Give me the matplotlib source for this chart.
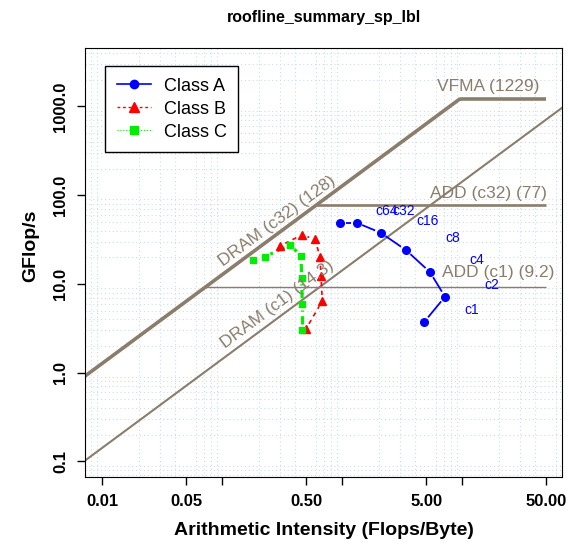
import matplotlib
matplotlib.use("Agg")
import matplotlib.pyplot as plt
from matplotlib.lines import Line2D
from matplotlib.ticker import FixedLocator, LogLocator, NullFormatter
import numpy as np

plt.rcParams['font.family'] = ['Liberation Sans', 'DejaVu Sans']

# roofline ceilings
vfma_peak = 1229.0
add_c32 = 77.0
add_c1 = 9.2
dram_c32 = 128.0
dram_c1 = 14.3

# measured points, c1 .. c64
thread_labels = ["c1", "c2", "c4", "c8", "c16", "c32", "c64"]
a_ai = [4.80, 7.15, 5.36, 3.38, 2.08, 1.31, 0.95]
a_gf = [3.73, 7.18, 13.6, 24.1, 37.8, 49.0, 49.0]
b_ai = [0.496, 0.679, 0.662, 0.650, 0.590, 0.457, 0.301]
b_gf = [3.11, 6.43, 12.3, 20.1, 32.1, 35.6, 26.8]
c_ai = [0.462, 0.462, 0.457, 0.451, 0.365, 0.226, 0.181]
c_gf = [3.03, 5.90, 11.6, 20.8, 27.5, 20.3, 18.6]

xlim = (0.00715, 67.5)
ylim = (0.0668, 4560)
roof_col = '#8b7d6b'

fig = plt.figure(figsize=(5.70, 5.44), dpi=100)
ax = fig.add_axes([85/570, 1 - 477/544, 477/570, 429/544])
ax.set_xscale('log')
ax.set_yscale('log')
ax.set_xlim(*xlim)
ax.set_ylim(*ylim)

# grid
ax.xaxis.set_minor_locator(LogLocator(base=10, subs=np.arange(1, 10)))
ax.yaxis.set_minor_locator(LogLocator(base=10, subs=np.arange(1, 10)))
ax.xaxis.set_minor_formatter(NullFormatter())
ax.yaxis.set_minor_formatter(NullFormatter())
ax.grid(which='minor', color='#cfdcef', linestyle=(0, (1, 2.5)), linewidth=0.8)
ax.tick_params(which='minor', length=0)

# rooflines
x_end = 50.0
ridge = vfma_peak / dram_c32
ax.plot([xlim[0], ridge], [dram_c32 * xlim[0], vfma_peak], color=roof_col, lw=2.6, solid_capstyle='butt')
ax.plot([ridge, x_end], [vfma_peak, vfma_peak], color=roof_col, lw=2.6, solid_capstyle='butt')
ax.plot([add_c32 / dram_c32, x_end], [add_c32, add_c32], color=roof_col, lw=1.9, solid_capstyle='butt')
ax.plot([xlim[0], xlim[1]], [dram_c1 * xlim[0], dram_c1 * xlim[1]], color=roof_col, lw=1.5)
ax.plot([add_c1 / dram_c32, x_end], [add_c1, add_c1], color=roof_col, lw=1.0, solid_capstyle='butt')

ax.text(16.3, 1669, "VFMA (1229)", color=roof_col, fontsize=12.5, ha='center', va='center')
ax.text(16.5, 105, "ADD (c32) (77)", color=roof_col, fontsize=12.5, ha='center', va='center')
ax.text(19.8, 13.6, "ADD (c1) (9.2)", color=roof_col, fontsize=12.5, ha='center', va='center')
ang = np.degrees(np.arctan((429 / np.log10(ylim[1] / ylim[0])) / (477 / np.log10(xlim[1] / xlim[0]))))
ax.text(0.284, 51.2, "DRAM (c32) (128)", color=roof_col, fontsize=12.5, ha='center', va='center',
        rotation=ang, rotation_mode='anchor')
ax.text(0.284, 5.94, "DRAM (c1) (14.3)", color=roof_col, fontsize=12.5, ha='center', va='center',
        rotation=ang, rotation_mode='anchor')


def draw_b(xs, ys, color, gap=6.0, **kw):
    # R style type="b": lines stop short of each point
    pts = ax.transData.transform(np.column_stack([xs, ys]))
    inv = ax.transData.inverted()
    for p0, p1 in zip(pts[:-1], pts[1:]):
        d = p1 - p0
        n = np.hypot(*d)
        if n <= 2 * gap:
            continue
        u = d / n
        seg = inv.transform(np.array([p0 + u * gap, p1 - u * gap]))
        ax.plot(seg[:, 0], seg[:, 1], color=color, **kw)


draw_b(a_ai, a_gf, 'blue', lw=1.3, solid_capstyle='butt')
draw_b(b_ai, b_gf, 'red', lw=1.2, dashes=(2.6, 2.6))
draw_b(c_ai, c_gf, '#00ee00', lw=2.3, dashes=(2.6, 1.4))
ax.plot(a_ai, a_gf, 'o', color='blue', ms=5.5, ls='none')
ax.plot(b_ai, b_gf, '^', color='red', ms=6, ls='none')
ax.plot(c_ai, c_gf, 's', color='#00ee00', ms=5, ls='none')

for lab, xv, yv in zip(thread_labels, a_ai, a_gf):
    ax.annotate(lab, (xv, yv), xytext=(34, 8.6), textcoords='offset points',
                color='blue', fontsize=10, ha='center', va='center')

# ticks
ax.xaxis.set_major_locator(FixedLocator([0.01, 0.05, 0.1, 0.5, 1, 5, 10, 50]))
ax.set_xticklabels(["0.01", "0.05", "", "0.50", "", "5.00", "", "50.00"])
ax.yaxis.set_major_locator(FixedLocator([0.1, 1, 10, 100, 1000]))
ax.set_yticklabels(["0.1", "1.0", "10.0", "100.0", "1000.0"], rotation=90, va='center')
ax.tick_params(which='major', length=6, width=1, labelsize=12, pad=6)
for t in ax.get_xticklabels() + ax.get_yticklabels():
    t.set_fontweight('bold')

ax.set_xlabel("Arithmetic Intensity (Flops/Byte)", fontsize=14, fontweight='bold')
ax.xaxis.set_label_coords(0.5, -0.105)
ax.set_ylabel("GFlop/s", fontsize=14, fontweight='bold')
ax.yaxis.set_label_coords(-0.095, 0.54)
ax.set_title("roofline_summary_sp_lbl", fontsize=11.5, fontweight='bold', pad=19)

handles = [
    Line2D([], [], color='blue', lw=1.2, marker='o', ms=6),
    Line2D([], [], color='red', lw=1.0, ls='--', dashes=(2, 2), marker='^', ms=7),
    Line2D([], [], color='#00ee00', lw=0.8, ls=':', marker='s', ms=6),
]
leg = ax.legend(handles, ["Class A", "Class B", "Class C"], loc='upper left',
                bbox_to_anchor=(0.042, 0.958), fontsize=13, frameon=True, fancybox=False,
                edgecolor='black', framealpha=1, handlelength=1.9, labelspacing=0.33,
                borderpad=0.65, handletextpad=0.7, borderaxespad=0)
leg.get_frame().set_linewidth(1.0)

fig.savefig("out.png", dpi=100)
